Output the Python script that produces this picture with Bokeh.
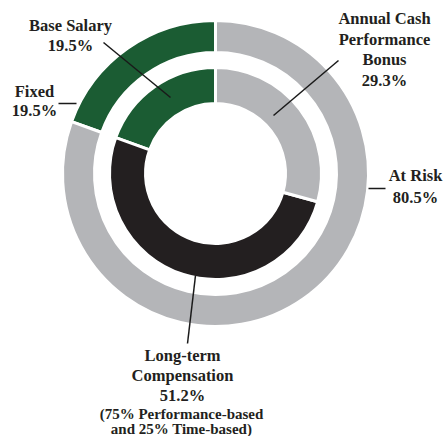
import numpy as np
from bokeh.plotting import figure
from bokeh.models import Range1d, ColumnDataSource
from bokeh.core.properties import value
from bokeh.embed import file_html
from bokeh.resources import INLINE

# ---- data ----
outer_labels = ["Fixed", "At Risk"]
outer_values = [19.5, 80.5]
outer_colors = ["#1b5c33", "#b4b5b8"]

inner_labels = ["Base Salary", "Long-term Compensation", "Annual Cash Performance Bonus"]
inner_values = [19.5, 51.2, 29.3]
inner_colors = ["#1b5c33", "#231f20", "#b4b5b8"]

# ---- geometry (pixels of the 445x436 page; center of rings) ----
CX, CY = 215, 173
R_OUT = (121, 153)
R_IN = (70, 106)

W, H = 445, 436
p = figure(width=W, height=H, output_backend="svg", toolbar_location=None,
           x_range=Range1d(-CX, W - CX), y_range=Range1d(CY - H, CY),
           min_border=0, outline_line_color=None, background_fill_color="white")
p.axis.visible = False
p.grid.visible = False


def ring(values, colors, r):
    v = np.array(values, dtype=float)
    frac = v / v.sum()
    ends = np.pi / 2 + 2 * np.pi * np.cumsum(frac)
    starts = np.concatenate([[np.pi / 2], ends[:-1]])
    src = ColumnDataSource(dict(start=starts, end=ends, color=colors))
    p.annular_wedge(x=0, y=0, inner_radius=r[0], outer_radius=r[1],
                    start_angle="start", end_angle="end", direction="anticlock",
                    fill_color="color", line_color="white", line_width=3, source=src)


ring(outer_values, outer_colors, R_OUT)
ring(inner_values, inner_colors, R_IN)


def P(x, y):
    return x - CX, CY - y


def leader(a, b):
    (x0, y0), (x1, y1) = P(*a), P(*b)
    p.line([x0, x1], [y0, y1], line_color="#1a1a1a", line_width=1.5)


leader((103, 42), (170, 97))
leader((58, 103), (76, 103))
leader((338, 60), (273, 115))
leader((368, 188), (385, 188))
leader((195, 275), (187, 343))

FONT = value("Liberation Serif")


def block(cx, cy, lines, size="16.5px", step=20):
    xs, ys = [], []
    for i, _ in enumerate(lines):
        x, y = P(cx, cy + i * step)
        xs.append(x)
        ys.append(y)
    p.text(x=xs, y=ys, text=lines, text_font=FONT, text_font_size=size,
           text_font_style="bold", text_align="center", text_baseline="middle",
           text_color="#231f20")


block(70, 25, ["Base Salary", f"{inner_values[0]}%"])
block(34, 91, ["Fixed", f"{outer_values[0]}%"], step=19)
block(384, 18, ["Annual Cash", "Performance", "Bonus", f"{inner_values[2]}%"], step=20.7)
block(415, 175, ["At Risk", f"{outer_values[1]}%"], step=22)
block(182, 355, ["Long-term", "Compensation", f"{inner_values[1]}%"])
block(181, 413, ["(75% Performance-based", "and 25% Time-based)"], size="15px", step=15)

open("out.html", "w").write(file_html(p, INLINE))
